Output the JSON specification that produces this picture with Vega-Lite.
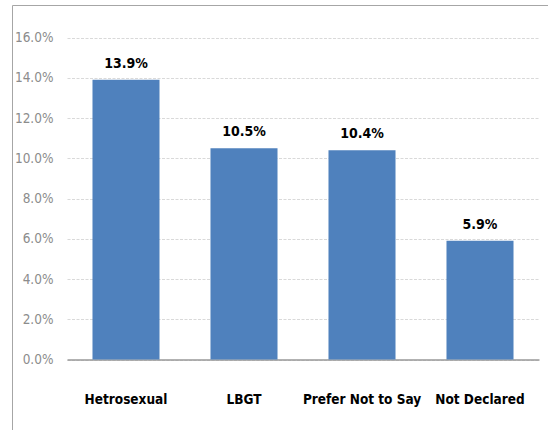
{
  "$schema": "https://vega.github.io/schema/vega-lite/v6.json",
  "width": 536,
  "height": 425,
  "autosize": "none",
  "padding": {"left": 12, "top": 5, "right": 0, "bottom": 0},
  "background": "white",
  "config": {
    "view": {"stroke": "#a6a6a6", "strokeWidth": 1},
    "font": "DejaVu Sans Condensed, sans-serif"
  },
  "data": {
    "values": [
      {"category": "Hetrosexual", "rate": 0.139},
      {"category": "LBGT", "rate": 0.105},
      {"category": "Prefer Not to Say", "rate": 0.104},
      {"category": "Not Declared", "rate": 0.059}
    ]
  },
  "encoding": {
    "x": {
      "field": "category",
      "type": "nominal",
      "sort": null,
      "scale": {"range": [55, 527], "paddingInner": 0.432, "paddingOuter": 0.216},
      "axis": {
        "title": null,
        "orient": "bottom",
        "offset": -70.5,
        "labelAngle": 0,
        "ticks": false,
        "tickSize": 0,
        "domainColor": "#999999",
        "domainWidth": 1.5,
        "labelPadding": 33,
        "labelFontSize": 13.5,
        "labelFontWeight": "bold",
        "labelColor": "black",
        "grid": false
      }
    },
    "y": {
      "field": "rate",
      "type": "quantitative",
      "scale": {"domain": [0, 0.16], "range": [354.5, 32.5], "nice": false},
      "axis": {
        "title": null,
        "orient": "left",
        "offset": -41,
        "ticks": false,
        "tickSize": 0,
        "domain": false,
        "labelPadding": 0,
        "format": ".1%",
        "values": [0, 0.02, 0.04, 0.06, 0.08, 0.1, 0.12, 0.14, 0.16],
        "labelFontSize": 13.5,
        "labelColor": "#8c8c8c",
        "grid": true,
        "gridColor": "#d9d9d9",
        "gridDash": [3, 1.5],
        "gridWidth": 1
      }
    }
  },
  "layer": [
    {"mark": {"type": "bar", "color": "#4f81bd"}},
    {
      "mark": {"type": "text", "baseline": "alphabetic", "dy": -12, "fontSize": 14, "fontWeight": "bold", "color": "black"},
      "encoding": {"text": {"field": "rate", "type": "quantitative", "format": ".1%"}}
    }
  ]
}
